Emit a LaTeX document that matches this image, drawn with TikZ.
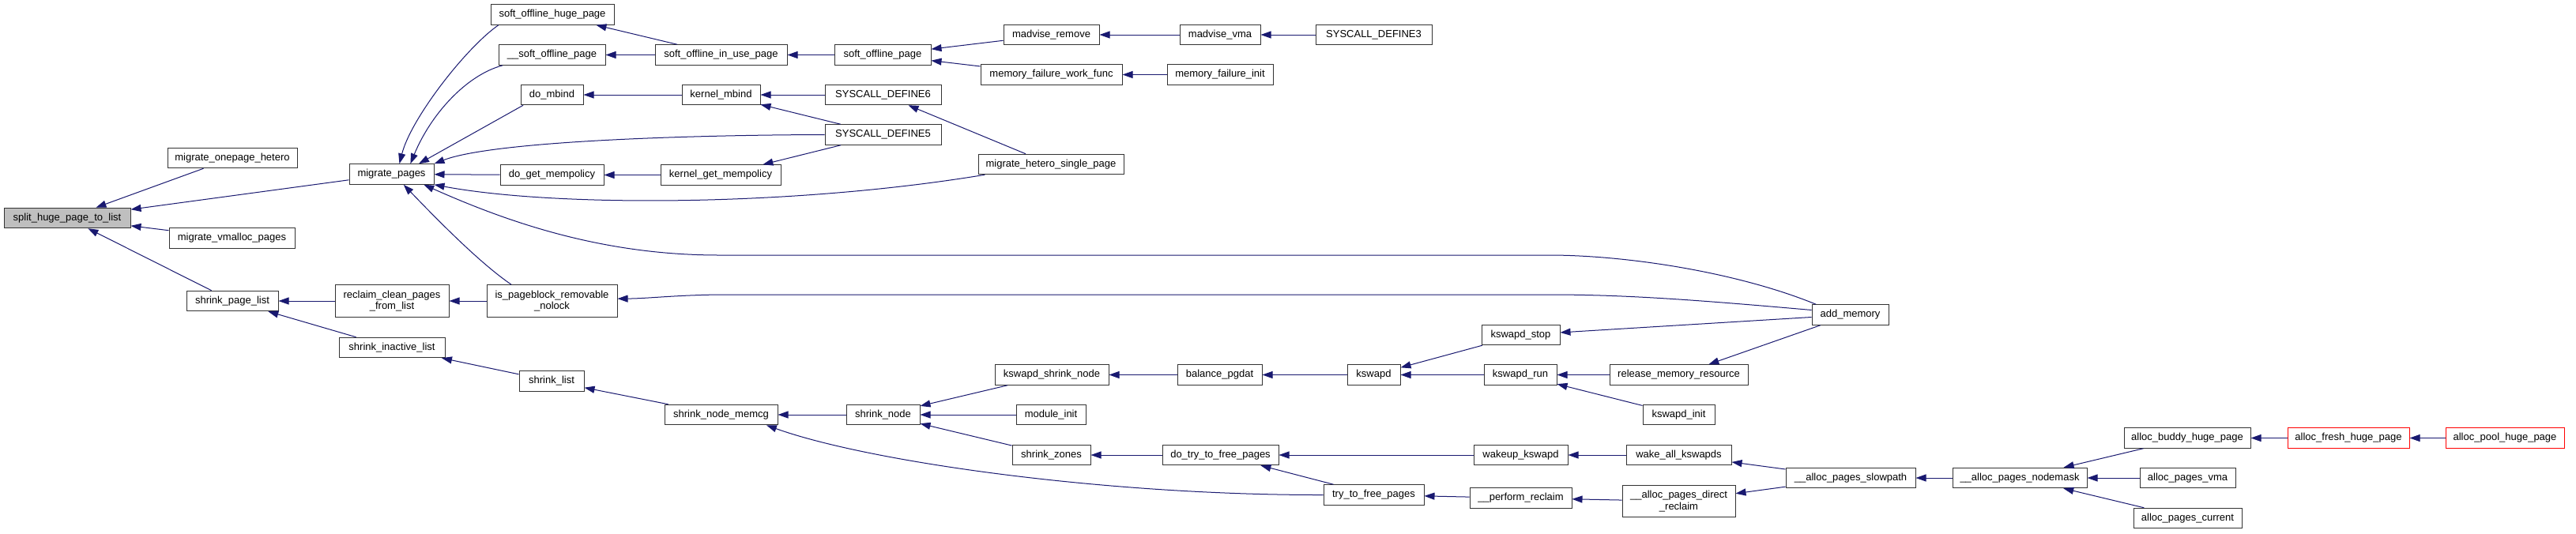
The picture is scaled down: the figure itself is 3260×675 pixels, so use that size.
\documentclass[tikz,border=0pt]{standalone}
\usepackage{fontspec}
\setmainfont{Liberation Sans}
\usetikzlibrary{arrows.meta}
\definecolor{mblue}{HTML}{191970}
\definecolor{nodegray}{HTML}{BFBFBF}
\definecolor{bordergray}{HTML}{333333}
\begin{document}
\begin{tikzpicture}[x=1pt,y=-1pt,
  fn/.style={draw=bordergray, line width=1pt, fill=white, inner sep=0pt,
    minimum height=25.5pt, font=\fontsize{13}{14.7}\selectfont},
  fn2/.style={fn, align=center, minimum height=40.5pt},
  e/.style={draw=mblue, line width=1pt, -{Triangle[length=13pt,width=9pt]}}]
\fill[white] (0,0) rectangle (3260,675);
\useasboundingbox (0,0) rectangle (3260,675);

\node[fn,fill=nodegray,minimum width=160pt] (split) at (85,276) {split\_huge\_page\_to\_list};
\node[fn,minimum width=164pt] (mone) at (294,200) {migrate\_onepage\_hetero};
\node[fn,minimum width=159pt] (mvm) at (293.5,301.5) {migrate\_vmalloc\_pages};
\node[fn,minimum width=107pt] (mp) at (495.5,220.5) {migrate\_pages};
\node[fn,minimum width=156pt] (sh) at (699,18.5) {soft\_offline\_huge\_page};
\node[fn,minimum width=135pt] (sp) at (698.5,69.5) {\_\_soft\_offline\_page};
\node[fn,minimum width=79pt] (dm) at (698.5,120) {do\_mbind};
\node[fn,minimum width=131pt] (dg) at (698.5,221.5) {do\_get\_mempolicy};
\node[fn,minimum width=116pt] (spl) at (294,381) {shrink\_page\_list};
\node[fn2,minimum width=144pt] (rc) at (496,381) {reclaim\_clean\_pages\\\_from\_list};
\node[fn2,minimum width=165pt] (ispb) at (698.5,381) {is\_pageblock\_removable\\\_nolock};
\node[fn,minimum width=134pt] (sil) at (496,440) {shrink\_inactive\_list};
\node[fn,minimum width=82pt] (sl) at (698,482.5) {shrink\_list};
\node[fn,minimum width=167pt] (soiup) at (912.5,69.5) {soft\_offline\_in\_use\_page};
\node[fn,minimum width=122pt] (sop) at (1117,69.5) {soft\_offline\_page};
\node[fn,minimum width=121pt] (mr) at (1330.5,44) {madvise\_remove};
\node[fn,minimum width=102pt] (mv) at (1544,44) {madvise\_vma};
\node[fn,minimum width=179pt] (mfwf) at (1330.5,94.5) {memory\_failure\_work\_func};
\node[fn,minimum width=134pt] (mfi) at (1544,94.5) {memory\_failure\_init};
\node[fn,minimum width=99pt] (km) at (912.5,120) {kernel\_mbind};
\node[fn,minimum width=147pt] (sd6) at (1117.5,120) {SYSCALL\_DEFINE6};
\node[fn,minimum width=147pt] (sd5) at (1117.5,170.5) {SYSCALL\_DEFINE5};
\node[fn,minimum width=152pt] (kgm) at (912,221.5) {kernel\_get\_mempolicy};
\node[fn,minimum width=184pt] (mhsp) at (1330,208) {migrate\_hetero\_single\_page};
\node[fn,minimum width=143pt] (snm) at (912.5,525) {shrink\_node\_memcg};
\node[fn,minimum width=93pt] (sn) at (1117.5,525) {shrink\_node};
\node[fn,minimum width=144pt] (ksn) at (1331,474.5) {kswapd\_shrink\_node};
\node[fn,minimum width=88pt] (mi) at (1330,525) {module\_init};
\node[fn,minimum width=99pt] (sz) at (1330.5,576) {shrink\_zones};
\node[fn,minimum width=107pt] (bp) at (1543.5,474.5) {balance\_pgdat};
\node[fn,minimum width=147pt] (dt) at (1544.5,576) {do\_try\_to\_free\_pages};
\node[fn,minimum width=147pt] (sd3) at (1738.5,44) {SYSCALL\_DEFINE3};
\node[fn,minimum width=97pt] (am) at (2341.5,398.5) {add\_memory};
\node[fn,minimum width=99pt] (kst) at (1924.5,424) {kswapd\_stop};
\node[fn,minimum width=67pt] (ksw) at (1738.5,474.5) {kswapd};
\node[fn,minimum width=92pt] (kr) at (1924,474.5) {kswapd\_run};
\node[fn,minimum width=175pt] (rmr) at (2124.5,474.5) {release\_memory\_resource};
\node[fn,minimum width=91pt] (ki) at (2124.5,525) {kswapd\_init};
\node[fn,minimum width=119pt] (wk) at (1924.5,576) {wakeup\_kswapd};
\node[fn,minimum width=133pt] (wak) at (2124.5,576) {wake\_all\_kswapds};
\node[fn,minimum width=164pt] (aps) at (2342,605) {\_\_alloc\_pages\_slowpath};
\node[fn,minimum width=127pt] (ttf) at (1738.5,626.5) {try\_to\_free\_pages};
\node[fn,minimum width=129pt] (pr) at (1924.5,630.5) {\_\_perform\_reclaim};
\node[fn2,minimum width=143pt] (apdr) at (2124.5,634.5) {\_\_alloc\_pages\_direct\\\_reclaim};
\node[fn,minimum width=170pt] (apn) at (2556,605) {\_\_alloc\_pages\_nodemask};
\node[fn,minimum width=160pt] (abh) at (2768,554.5) {alloc\_buddy\_huge\_page};
\node[fn,minimum width=121pt] (apv) at (2768.5,605) {alloc\_pages\_vma};
\node[fn,minimum width=137pt] (apc) at (2768.5,656) {alloc\_pages\_current};
\node[fn,draw=red,minimum width=154pt] (afh) at (2972,554.5) {alloc\_fresh\_huge\_page};
\node[fn,draw=red,minimum width=150pt] (aph) at (3170,554.5) {alloc\_pool\_huge\_page};

% edges (arrow at the callee)
\draw[e] (mone) -- (split);
\draw[e] (mp) -- (split);
\draw[e] (mvm) -- (split);
\draw[e] (spl) -- (split);
\draw[e] (sh.191.6) .. controls (590,60) and (520,150) .. (mp.53);
\draw[e] (sp.192.7) .. controls (590,95) and (545,145) .. (mp.29);
\draw[e] (dm.200) -- (mp.21);
\draw[e] (sd5.west) .. controls (850,171) and (620,180) .. (mp.north east);
\draw[e] (dg) -- (mp);
\draw[e] (mhsp.189) .. controls (1000,262) and (700,262) .. (mp.south east);
\draw[e] (am.163) .. controls (2200,345) and (2060,323) .. (1960,323) -- (910,323)
  .. controls (760,323) and (640,280) .. (mp.-18);
\draw[e] (ispb.158) .. controls (610,335) and (560,285) .. (mp.-41);
\draw[e] (soiup) -- (sh);
\draw[e] (soiup) -- (sp);
\draw[e] (sop) -- (soiup);
\draw[e] (mr) -- (sop);
\draw[e] (mfwf) -- (sop);
\draw[e] (mv) -- (mr);
\draw[e] (sd3) -- (mv);
\draw[e] (mfi) -- (mfwf);
\draw[e] (km) -- (dm);
\draw[e] (sd6) -- (km);
\draw[e] (sd5) -- (km);
\draw[e] (mhsp) -- (sd6);
\draw[e] (kgm) -- (dg);
\draw[e] (sd5) -- (kgm);
\draw[e] (rc) -- (spl);
\draw[e] (sil) -- (spl);
\draw[e] (ispb) -- (rc);
\draw[e] (am.173) .. controls (2150,380) and (2060,373) .. (1960,373) -- (920,373)
  .. controls (860,373) and (820,378) .. (ispb.2);
\draw[e] (sl) -- (sil);
\draw[e] (snm) -- (sl);
\draw[e] (sn) -- (snm);
\draw[e] (ttf.west) .. controls (1400,627) and (1100,585) .. (snm.-13);
\draw[e] (ksn) -- (sn);
\draw[e] (mi) -- (sn);
\draw[e] (sz) -- (sn);
\draw[e] (bp) -- (ksn);
\draw[e] (dt) -- (sz);
\draw[e] (ksw) -- (bp);
\draw[e] (wk) -- (dt);
\draw[e] (ttf) -- (dt);
\draw[e] (kst) -- (ksw);
\draw[e] (kr) -- (ksw);
\draw[e] (am) -- (kst);
\draw[e] (rmr) -- (kr);
\draw[e] (ki) -- (kr);
\draw[e] (am) -- (rmr);
\draw[e] (wak) -- (wk);
\draw[e] (aps) -- (wak);
\draw[e] (pr) -- (ttf);
\draw[e] (apdr) -- (pr);
\draw[e] (aps) -- (apdr);
\draw[e] (apn) -- (aps);
\draw[e] (abh) -- (apn);
\draw[e] (apv) -- (apn);
\draw[e] (apc) -- (apn);
\draw[e] (afh) -- (abh);
\draw[e] (aph) -- (afh);
\end{tikzpicture}
\end{document}
